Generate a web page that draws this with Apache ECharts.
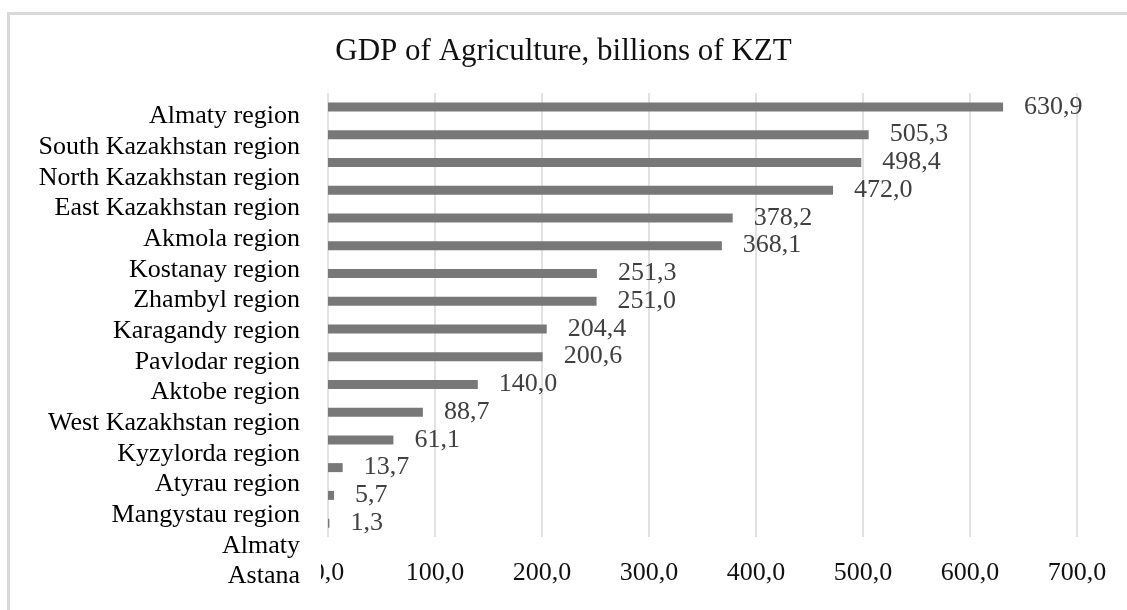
<!DOCTYPE html>
<html>
<head>
<meta charset="utf-8">
<title>GDP of Agriculture</title>
<script src="https://cdn.jsdelivr.net/npm/echarts@6/dist/echarts.min.js"></script>
<style>
    html, body { margin: 0; padding: 0; background: #fff; }
    #chart { width: 1127px; height: 610px; }
</style>
</head>
<body>
<div id="chart"></div>
<script>
var titleText = "GDP of Agriculture, billions of KZT";
var regions = ["Almaty region", "South Kazakhstan region", "North Kazakhstan region", "East Kazakhstan region",
    "Akmola region", "Kostanay region", "Zhambyl region", "Karagandy region", "Pavlodar region", "Aktobe region",
    "West Kazakhstan region", "Kyzylorda region", "Atyrau region", "Mangystau region", "Almaty", "Astana"];
var gdpValues = [630.9, 505.3, 498.4, 472.0, 378.2, 368.1, 251.3, 251.0, 204.4, 200.6, 140.0, 88.7, 61.1, 13.7, 5.7, 1.3];
var xMin = 0, xMax = 700, xStep = 100;

var serif = "'Liberation Serif', 'Times New Roman', serif";

function commaFmt(v) {
    return Number(v).toFixed(1).replace('.', ',');
}

var myChart = echarts.init(document.getElementById("chart"));
var option = {
    backgroundColor: '#ffffff',
    animation: false,
    title: {
        text: titleText,
        left: 'center',
        top: 31,
        textStyle: {
            fontFamily: serif,
            fontSize: 31,
            fontWeight: 'normal',
            color: '#111'
        }
    },
    grid: [
        // bars
        { left: 328, right: 50, top: 93, bottom: 73 },
        // category labels (spaced differently from the bars)
        { left: 308, width: 1, top: 101, bottom: 18 }
    ],
    xAxis: [
        {
            gridIndex: 0,
            type: 'value',
            min: xMin,
            max: xMax,
            interval: xStep,
            axisLine: { show: false },
            axisTick: { show: false },
            splitLine: { show: true, lineStyle: { color: '#d9d9d9', width: 1.5 } },
            axisLabel: {
                margin: 23,
                fontFamily: serif,
                fontSize: 26,
                color: '#111',
                formatter: commaFmt
            }
        },
        { gridIndex: 1, type: 'value', show: false }
    ],
    yAxis: [
        {
            gridIndex: 0,
            type: 'category',
            inverse: true,
            data: regions,
            axisLine: { show: false },
            axisTick: { show: false },
            axisLabel: { show: false }
        },
        {
            gridIndex: 1,
            type: 'category',
            inverse: true,
            data: regions,
            axisLine: { show: false },
            axisTick: { show: false },
            axisLabel: {
                interval: 0,
                margin: 8,
                fontFamily: serif,
                fontSize: 26,
                color: '#000'
            }
        }
    ],
    series: [
        {
            name: 'GDP of Agriculture',
            type: 'bar',
            xAxisIndex: 0,
            yAxisIndex: 0,
            data: gdpValues,
            barWidth: 9,
            itemStyle: { color: '#787878' },
            label: {
                show: true,
                position: 'right',
                distance: 21,
                fontFamily: serif,
                fontSize: 26,
                color: '#404040',
                formatter: function (p) { return commaFmt(p.value); }
            }
        }
    ],
    graphic: [
        // frame of the chart area (only top and left visible)
        {
            type: 'polyline',
            shape: { points: [[8.5, 700], [8.5, 13.5], [1200, 13.5]] },
            style: { stroke: '#d9d9d9', lineWidth: 3, fill: null },
            z: 10
        },
        // the "0,0" tick label is partly hidden behind the label column
        {
            type: 'rect',
            shape: { x: 302, y: 558, width: 19, height: 32 },
            style: { fill: '#ffffff' },
            z: 10
        }
    ]
};
myChart.setOption(option);
</script>
</body>
</html>
